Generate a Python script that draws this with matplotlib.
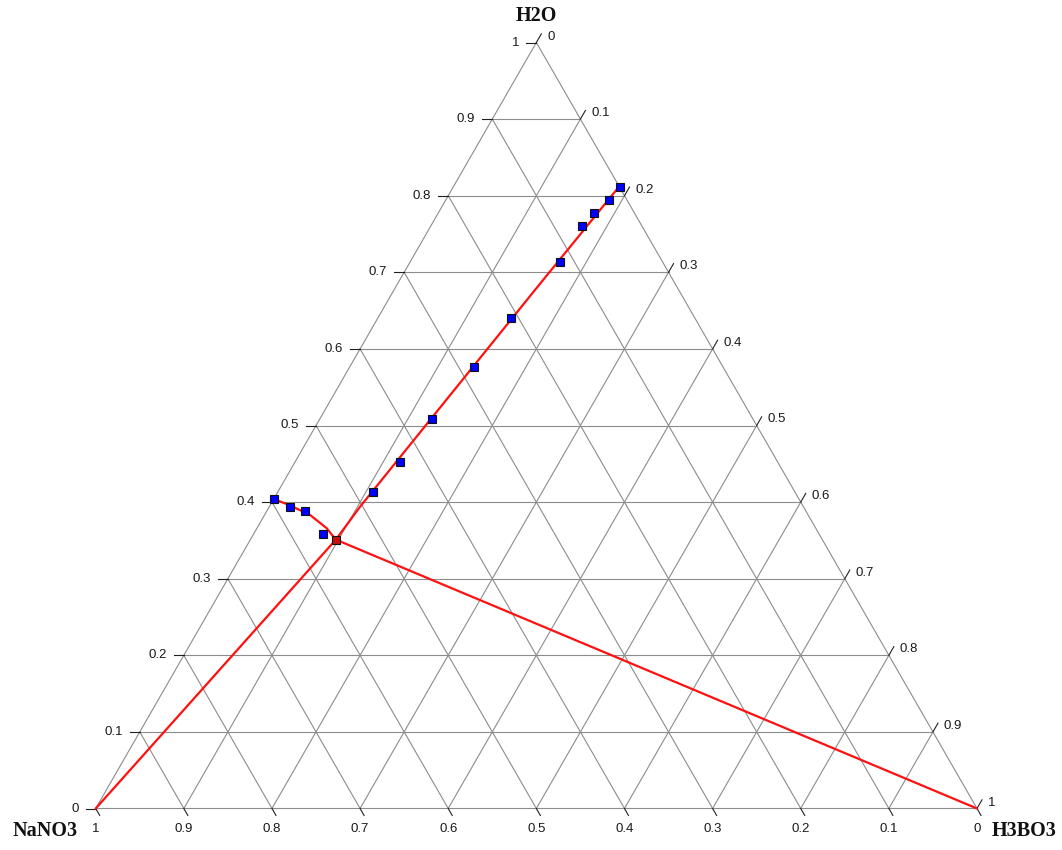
import numpy as np
import matplotlib
matplotlib.use("Agg")
import matplotlib.pyplot as plt
from matplotlib.transforms import offset_copy

# ---- data (mass fractions) ----
# H3BO3 saturation branch
branch_a_h2o = [0.811, 0.794, 0.778, 0.761, 0.714, 0.640, 0.576, 0.509, 0.452, 0.413]
branch_a_h3bo3 = [0.189, 0.185, 0.176, 0.171, 0.170, 0.151, 0.141, 0.127, 0.119, 0.108]
# NaNO3 saturation branch
branch_b_h2o = [0.404, 0.394, 0.388, 0.358]
branch_b_h3bo3 = [0.000, 0.024, 0.043, 0.079]
# invariant point (both solids)
inv_h2o = [0.351]
inv_h3bo3 = [0.097]
# fitted solubility curves
curve_a_h2o = [0.812, 0.677, 0.394, 0.351]
curve_a_h3bo3 = [0.188, 0.160, 0.103, 0.097]
curve_b_h2o = [0.404, 0.396, 0.383, 0.366, 0.351]
curve_b_h3bo3 = [0.000, 0.022, 0.052, 0.079, 0.097]

ticks = [round(0.1 * i, 1) for i in range(11)]
tick_labels = ["0", "0.1", "0.2", "0.3", "0.4", "0.5", "0.6", "0.7", "0.8", "0.9", "1"]

H = np.sqrt(3) / 2


def to_xy(h2o, h3bo3):
    h2o = np.asarray(h2o, float)
    h3bo3 = np.asarray(h3bo3, float)
    return h3bo3 + h2o / 2, h2o * H


W, HT = 1062, 850
fig = plt.figure(figsize=(W / 100, HT / 100), dpi=100)
ax = fig.add_axes([0, 0, 1, 1])
ax.set_axis_off()

# pixel layout of the triangle
x0_px, x1_px = 95.7, 977.0
ybase_px, yapex_px = 808.5, 42.5
sx = (x1_px - x0_px)
sy = (ybase_px - yapex_px) / H
ax.set_xlim(-x0_px / sx, (W - x0_px) / sx)
ax.set_ylim(-(HT - ybase_px) / sy, ybase_px / sy)

grid_kw = dict(color="#8c8c8c", lw=0.8, zorder=1)

# triangle edges
ex, ey = to_xy([0, 0, 1, 0], [0, 1, 0, 0])
ax.plot(ex, ey, **grid_kw)

# grid lines
for v in ticks[1:-1]:
    # constant H2O
    gx, gy = to_xy([v, v], [0, 1 - v])
    ax.plot(gx, gy, **grid_kw)
    # constant H3BO3
    gx, gy = to_xy([0, 1 - v], [v, v])
    ax.plot(gx, gy, **grid_kw)
    # constant NaNO3
    gx, gy = to_xy([0, 1 - v], [1 - v, 0])
    ax.plot(gx, gy, **grid_kw)

tick_len = 10
tick_kw = dict(color="#202020", lw=0.8, zorder=2)
lab_kw = dict(fontsize=9.5, family="Liberation Sans", color="#1a1a1a")
c60, s60 = 0.5, H

for v, lab in zip(ticks, tick_labels):
    # left edge: H2O
    px, py = to_xy([v], [0])
    p = ax.transData.transform((px[0], py[0]))
    q = ax.transData.inverted().transform((p[0] - tick_len, p[1]))
    ax.plot([px[0], q[0]], [py[0], q[1]], **tick_kw)
    ax.text(px[0], py[0], lab, ha="right", va="center",
            transform=offset_copy(ax.transData, fig, x=-17, y=0, units="dots"), **lab_kw)

    # right edge: H3BO3
    px, py = to_xy([1 - v], [v])
    p = ax.transData.transform((px[0], py[0]))
    q = ax.transData.inverted().transform((p[0] + tick_len * c60, p[1] + tick_len * s60))
    ax.plot([px[0], q[0]], [py[0], q[1]], **tick_kw)
    ax.text(px[0], py[0], lab, ha="left", va="center",
            transform=offset_copy(ax.transData, fig, x=11, y=6, units="dots"), **lab_kw)

    # bottom edge: NaNO3
    px, py = to_xy([0], [1 - v])
    p = ax.transData.transform((px[0], py[0]))
    q = ax.transData.inverted().transform((p[0] + tick_len * c60 * 0.8, p[1] - tick_len * s60 * 0.8))
    ax.plot([px[0], q[0]], [py[0], q[1]], **tick_kw)
    ax.text(px[0], py[0], lab, ha="center", va="center",
            transform=offset_copy(ax.transData, fig, x=0, y=-20, units="dots"), **lab_kw)

# component labels
title_kw = dict(fontsize=14.5, family="Liberation Serif", fontweight="bold", color="#111111")
fig.text(536 / W, 1 - 16 / HT, "H2O", ha="center", va="center", **title_kw)
fig.text(45 / W, 1 - 831 / HT, "NaNO3", ha="center", va="center", **title_kw)
fig.text(1024 / W, 1 - 831 / HT, "H3BO3", ha="center", va="center", **title_kw)

red_kw = dict(color="#ff1010", lw=1.6, zorder=3, solid_capstyle="round")

# solubility curves
cx, cy = to_xy(curve_a_h2o, curve_a_h3bo3)
ax.plot(cx, cy, **red_kw)
cx, cy = to_xy(curve_b_h2o, curve_b_h3bo3)
ax.plot(cx, cy, **red_kw)

# tie lines from invariant point to the pure solids
ix, iy = to_xy(inv_h2o, inv_h3bo3)
nx, ny = to_xy([0], [0])
bx, by = to_xy([0], [1])
ax.plot([ix[0], nx[0]], [iy[0], ny[0]], **red_kw)
ax.plot([ix[0], bx[0]], [iy[0], by[0]], **red_kw)

# experimental points
mk_kw = dict(marker="s", ms=6, mec="#101010", mew=0.8, ls="none", zorder=4)
dx, dy = to_xy(branch_a_h2o, branch_a_h3bo3)
ax.plot(dx, dy, mfc="#0000ff", **mk_kw)
dx, dy = to_xy(branch_b_h2o, branch_b_h3bo3)
ax.plot(dx, dy, mfc="#0000ff", **mk_kw)
ax.plot(ix, iy, mfc="#c81010", **mk_kw)

fig.savefig("out.png", dpi=100)
